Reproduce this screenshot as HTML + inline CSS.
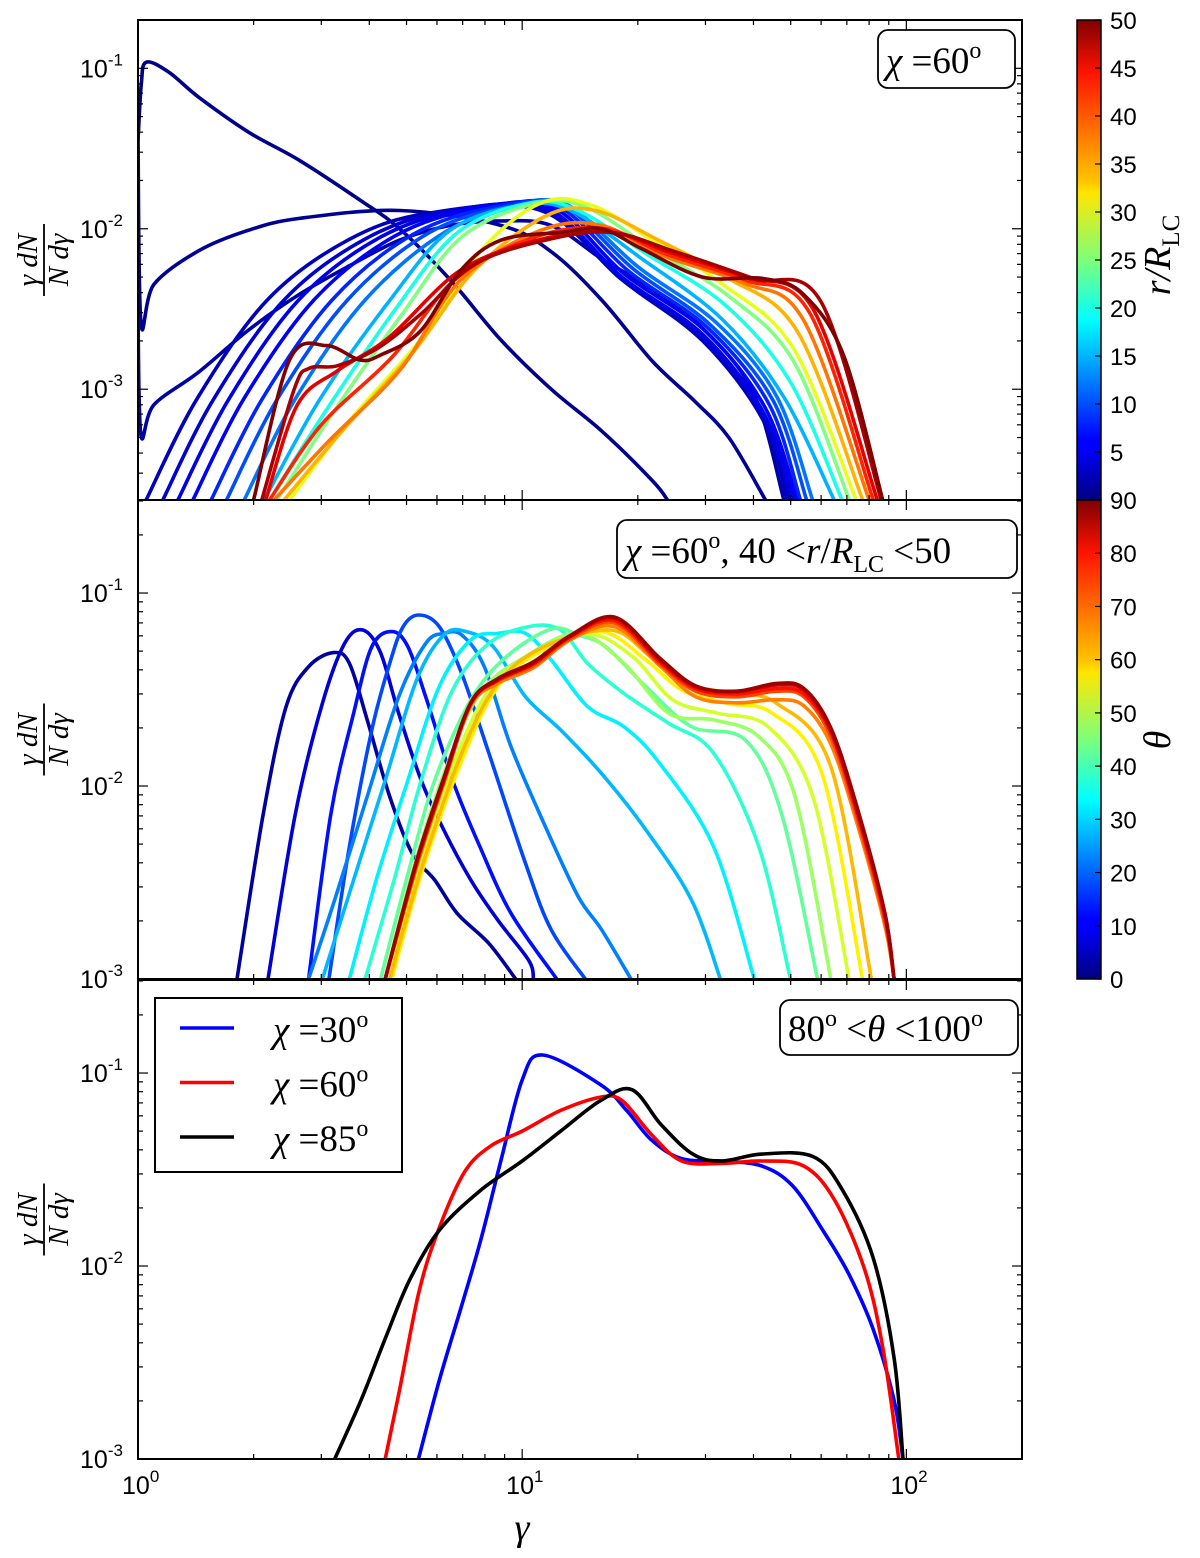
<!DOCTYPE html>
<html><head><meta charset="utf-8"><style>
html,body{margin:0;padding:0;background:#fff;}
svg{display:block;}
text{font-family:"Liberation Sans",sans-serif;fill:#000;}
.serif{font-family:"Liberation Serif",serif;}
</style></head><body>
<svg id="fig" width="1200" height="1558" viewBox="0 0 1200 1558" xmlns="http://www.w3.org/2000/svg">
<defs>
<linearGradient id="jetV" x1="0" y1="1" x2="0" y2="0">
<stop offset="0" stop-color="#000080"/><stop offset="0.11" stop-color="#0000ff"/><stop offset="0.125" stop-color="#0000ff"/>
<stop offset="0.34" stop-color="#00dcff"/><stop offset="0.375" stop-color="#00ffff"/>
<stop offset="0.5" stop-color="#7dff7a"/><stop offset="0.64" stop-color="#ffe600"/>
<stop offset="0.66" stop-color="#ffc800"/><stop offset="0.89" stop-color="#ff1300"/><stop offset="1" stop-color="#800000"/>
</linearGradient>
<clipPath id="clipTop"><rect x="138" y="20" width="884" height="480"/></clipPath>
<clipPath id="clipMid"><rect x="138" y="500" width="884" height="479"/></clipPath>
<clipPath id="clipBot"><rect x="138" y="980" width="884" height="479"/></clipPath>
</defs>
<g id="layer"></g>
</svg>
<script>
// ---------- data: top panel (chi=60, colour = r/R_LC) ----------
const topR = [0.5, 1, 2, 3, 4, 5, 6, 8, 10, 12, 15, 20, 25, 30, 35, 38, 42, 45, 48, 50];
const topGamma = [
 [1.0,1.02,1.05,1.2,1.44,1.94,2.63,3.78,4.8,6.5,8.8,11.9,16.1,21.8,23.9],
 [1.0,1.018,1.1,1.44,1.94,2.63,4.8,8.8,11.9,16.1,21.8,28,34.5,43],
 [1.0,1.018,1.1,1.44,1.94,2.63,3.56,4.8,6.5,8.8,11.9,16.1,21.8,29.5,40,48],
 [1.05,1.42,2.17,3.52,5.70,11.2,18.2,29.5,42.4,49],
 [1.16,1.57,2.40,3.89,6.30,11.2,18.2,29.5,42.4,50],
 [1.27,1.72,2.62,4.25,6.90,11.6,18.2,29.5,42.4,51],
 [1.39,1.88,2.87,4.66,7.55,12.0,18.5,30,43,52],
 [1.55,2.10,3.20,5.19,8.42,12.4,19,30.5,44,53],
 [1.70,2.30,3.51,5.70,9.23,12.8,19.5,31,45,55],
 [1.89,2.56,3.90,6.33,10.0,13.2,20,32,46,57],
 [2.13,2.97,4.53,6.5,9.95,13.4,20.5,33.3,47.9,64.9],
 [2.2,3.1,4.7,6.8,10.5,14.0,21.0,34.0,50.0,68.0],
 [2.3,3.2,4.9,7.0,11.0,14.8,21.8,34.5,50.8,71.0],
 [2.48,3.56,5.43,7.81,11.2,15.2,21.8,33.3,50.8,74.0],
 [2.4,3.4,5.2,7.5,11.5,15.5,22,34,52,77],
 [2.26,3.15,4.81,6.92,11.2,16.1,23.2,37.6,54.0,80.0],
 [2.2,3.0,4.6,6.8,11,16.5,23.5,38,56,82],
 [2.15,2.6,3.3,4.5,6.9,11,17,24,38,57,84],
 [2.1,2.55,2.79,3.3,4.2,5.5,7.5,11.5,17,25,40,60,86],
 [2.0,2.48,3.09,3.78,4.27,5.43,6.92,8.82,12.7,16.1,20.5,29.5,42.4,54.0,68.8,86.8]
];
const topValue = [
 [.0356,.08,.109,.095,.066,.040,.0267,.0151,.01,.0048,.00203,.001,.00055,.00027,2.04e-4],
 [.0383,.00258,.0045,.0073,.0098,.0116,.013,.0105,.0072,.0036,.0015,.00085,.0005,2.04e-4],
 [.0029,.000516,.0008,.00128,.00234,.0039,.0059,.0085,.0105,.0112,.0105,.0065,.0042,.0024,.00095,2.04e-4],
 [2.04e-4,8.6e-4,3.6e-3,8.5e-3,1.25e-2,1.3e-2,4.8e-3,2.0e-3,6.4e-4,2.04e-4],
 [2.04e-4,8.6e-4,3.6e-3,8.6e-3,1.28e-2,1.32e-2,4.9e-3,2.1e-3,6.8e-4,2.04e-4],
 [2.04e-4,8.6e-4,3.6e-3,8.8e-3,1.3e-2,1.34e-2,5.0e-3,2.2e-3,7.2e-4,2.04e-4],
 [2.04e-4,8.6e-4,3.6e-3,9.0e-3,1.33e-2,1.36e-2,5.2e-3,2.3e-3,7.6e-4,2.04e-4],
 [2.04e-4,8.6e-4,3.6e-3,9.2e-3,1.36e-2,1.38e-2,5.4e-3,2.4e-3,8e-4,2.04e-4],
 [2.04e-4,8.6e-4,3.6e-3,9.4e-3,1.38e-2,1.4e-2,5.6e-3,2.5e-3,8.5e-4,2.04e-4],
 [2.04e-4,8.6e-4,3.6e-3,9.6e-3,1.4e-2,1.4e-2,5.8e-3,2.6e-3,9e-4,2.04e-4],
 [2.04e-4,8.6e-4,3.6e-3,9.8e-3,1.4e-2,1.3e-2,6.5e-3,2.7e-3,9e-4,2.04e-4],
 [2.04e-4,7.5e-4,3.2e-3,9.5e-3,1.45e-2,1.3e-2,7e-3,3.3e-3,1.1e-3,2.04e-4],
 [2.04e-4,7e-4,3e-3,9e-3,1.45e-2,1.35e-2,7.5e-3,3.8e-3,1.5e-3,2.04e-4],
 [2.04e-4,6.4e-4,2.03e-3,7.3e-3,1.45e-2,1.4e-2,8.5e-3,4.5e-3,1.8e-3,2.04e-4],
 [2.04e-4,5.5e-4,1.7e-3,5.5e-3,1.2e-2,1.3e-2,8.8e-3,5e-3,2.3e-3,2.04e-4],
 [2.04e-4,4.8e-4,1.32e-3,4.8e-3,9.8e-3,1.05e-2,6.8e-3,4.6e-3,2.7e-3,2.04e-4],
 [2.04e-4,6e-4,1.6e-3,5e-3,9e-3,1e-2,7e-3,4.8e-3,3e-3,2.04e-4],
 [2.04e-4,8e-4,1.3e-3,2.1e-3,5.5e-3,8.5e-3,9.5e-3,7.2e-3,5e-3,3.2e-3,2.04e-4],
 [2.04e-4,1e-3,1.35e-3,1.4e-3,1.8e-3,3e-3,6e-3,8.5e-3,9.5e-3,7.2e-3,4.9e-3,3.5e-3,2.04e-4],
 [2.04e-4,1.52e-3,1.87e-3,1.52e-3,1.63e-3,2.3e-3,5.5e-3,8.5e-3,9.5e-3,1.0e-2,7.5e-3,5e-3,4.9e-3,3.9e-3,1.6e-3,2.04e-4]
];
// ---------- data: middle panel (40<r<50, colour = theta) ----------
const midTheta = [2.5,7.5,12.5,17.5,22.5,27.5,32.5,37.5,42.5,47.5,52.5,57.5,62.5,67.5,72.5,77.5,82.5,87.5];
const bundleGamma = [4.40,5.31,6.25,7.35,8.64,10.7,13.3,17.4,22.8,28.3,36.1,46.0,54.1,63.6,74.8,87.9,92.9];
const midGamma = [
 [1.81,2.12,2.43,2.78,3.23,3.55,3.95,4.52,5.17,5.92,6.77,8.19,9.62],
 [2.18,2.57,3.02,3.45,3.85,4.28,4.77,5.46,6.25,7.35,8.64,10.4,10.7],
 [2.78,3.18,3.64,4.06,4.58,5.04,5.61,6.59,7.76,9.35,12.3],
 [3.14,3.55,4.06,4.52,4.90,5.38,6.08,6.96,8.19,10.2,11.9,14.6],
 [2.78,3.27,3.95,4.77,5.61,6.25,6.96,7.97,9.35,11.6,14.0,16.1,19.2],
 [3.02,3.64,4.40,5.31,6.25,7.15,8.41,10.2,12.6,16.1,21.0,27.6,32.8],
 [3.55,4.17,5.04,6.08,7.35,8.64,10.2,11.9,14.8,18.4,22.8,31.5,40.2],
 [3.90,4.64,5.46,6.59,8.19,10.4,12.6,14.8,18.4,24.1,31.5,41.3,49.9],
 [4.28,5.04,5.92,7.35,9.1,11.9,14.0,16.5,21.0,27.6,38.1,47.3,58.7],
 [4.40,5.17,6.25,7.76,10.2,14.0,18.4,24.1,31.5,41.3,51.3,63.6],
 [4.52,5.31,6.59,8.19,10.7,14.8,19.4,24.7,32.4,43.6,57.1,70.9],
 [4.58,5.46,6.96,8.64,11.4,16.1,21.0,26.1,34.2,44.8,60.3,76.9],
 [4.52,5.46,6.96,8.64,11.4,17.0,21.6,26.8,35.1,46.0,63.6,81.1],
 bundleGamma, bundleGamma, bundleGamma, bundleGamma, bundleGamma
];
const midValue = [
 [.001,.00723,.0258,.0415,.0491,.0432,.022,.00882,.00448,.00326,.00219,.00153,.001],
 [.001,.00723,.0268,.0548,.0643,.049,.0238,.0107,.00592,.00326,.00202,.00125,.001],
 [.001,.00723,.0238,.0527,.0631,.0527,.029,.0107,.00485,.00219,.001],
 [.001,.00485,.0195,.0432,.067,.0769,.067,.0383,.0148,.00397,.0018,.001],
 [.001,.00267,.00882,.029,.0548,.0618,.0606,.0415,.016,.00592,.00267,.0018,.001],
 [.001,.00326,.0107,.0354,.0606,.0631,.0527,.029,.0195,.0116,.00592,.00256,.001],
 [.001,.00326,.0107,.0327,.0571,.0618,.0618,.045,.0258,.0203,.0131,.00485,.001],
 [.001,.00326,.0107,.0314,.0548,.067,.0643,.0432,.0302,.0211,.0148,.00485,.001],
 [.001,.0035,.0107,.0279,.0468,.065,.0606,.0527,.0327,.0203,.0173,.00723,.001],
 [.001,.0035,.0116,.0302,.0468,.0618,.0432,.0238,.022,.018,.00882,.001],
 [.001,.0035,.0126,.0314,.0487,.0618,.0468,.0279,.0238,.0203,.00882,.001],
 [.001,.0035,.0135,.0327,.051,.0631,.045,.0314,.0268,.0238,.0116,.001],
 [.001,.0037,.0148,.034,.0527,.0643,.0468,.034,.0302,.0268,.0126,.001],
 [.001,.0038,.0103,.026,.034,.041,.057,.067,.042,.029,.027,.028,.026,.0165,.0062,.0019,.001],
 [.001,.0039,.0105,.0265,.035,.042,.058,.070,.043,.031,.029,.031,.029,.018,.0066,.002,.001],
 [.001,.004,.0107,.027,.0355,.043,.059,.072,.044,.032,.030,.032,.030,.019,.0070,.0021,.001],
 [.001,.004,.0107,.0268,.0354,.0432,.0594,.074,.045,.0327,.0308,.0334,.0314,.0195,.00723,.00219,.001],
 [.001,.0041,.011,.027,.036,.044,.06,.075,.046,.033,.031,.034,.032,.020,.0075,.0022,.001]
];
// ---------- data: bottom panel (80<theta<100) ----------
const botLabels = ["30","60","85"];
const botColors = ["#0000ff","#ff0000","#000000"];
const botGamma = [
 [5.37,6.1,6.9,7.8,8.8,10.0,11.3,16.0,18.7,21.7,26.0,33.0,42.0,50.6,61.0,71.0,82.0,93.0,98.0],
 [4.4,4.8,5.4,6.1,7.1,8.3,10.0,12.6,16.0,18.2,21.7,26.0,33.0,42.0,54.0,65.0,78.0,87.0,95.6],
 [3.25,3.8,4.4,5.1,6.1,7.8,10.0,12.6,16.0,19.3,23.0,27.8,33.0,42.0,57.0,68.0,82.0,93.0,98.0]
];
const botValue = [
 [.001,.0026,.0059,.0136,.035,.092,.124,.087,.064,.045,.036,.035,.033,.026,.015,.009,.0047,.002,.001],
 [.001,.0023,.0075,.016,.031,.042,.05,.064,.075,.072,.048,.035,.034,.035,.033,.022,.0095,.0037,.001],
 [.001,.002,.0042,.0085,.0154,.0247,.035,.05,.072,.082,.054,.038,.035,.038,.037,.025,.011,.0033,.001]
];
const yTickExp = [-1,-2,-3];
const xTickExp = [0,1,2];
const cbTopTicks = [5,10,15,20,25,30,35,40,45,50];
const cbMidTicks = [0,10,20,30,40,50,60,70,80,90];

// ---------- axes ----------
const NS = "http://www.w3.org/2000/svg";
const X0 = 138, X1 = 1022, XMINL = 0, XMAXL = Math.log10(200);
function xs(g){ return X0 + (Math.log10(g)-XMINL)/(XMAXL-XMINL)*(X1-X0); }
const panels = {
 top: {y0:20, y1:500, lmin:Math.log10(2.04e-4), lmax:Math.log10(0.2)},
 mid: {y0:500, y1:979, lmin:-3, lmax:-0.518},
 bot: {y0:980, y1:1459, lmin:-3, lmax:-0.518}
};
function ys(p, v){ const P=panels[p]; return P.y1 - (Math.log10(v)-P.lmin)/(P.lmax-P.lmin)*(P.y1-P.y0); }
function jet(t){
 const c = x => Math.max(0, Math.min(1, x));
 const r=c(1.5-Math.abs(4*t-3)), g=c(1.5-Math.abs(4*t-2)), b=c(1.5-Math.abs(4*t-1));
 return "rgb("+Math.round(r*255)+","+Math.round(g*255)+","+Math.round(b*255)+")";
}
function el(tag, attrs, parent){
 const e=document.createElementNS(NS,tag);
 for(const k in attrs) e.setAttribute(k, attrs[k]);
 (parent||layer).appendChild(e); return e;
}
function smoothPath(pts){
 let d="M"+pts[0][0].toFixed(1)+","+pts[0][1].toFixed(1);
 for(let i=0;i<pts.length-1;i++){
  const p0=pts[Math.max(0,i-1)], p1=pts[i], p2=pts[i+1], p3=pts[Math.min(pts.length-1,i+2)];
  const c1=[p1[0]+(p2[0]-p0[0])/6, p1[1]+(p2[1]-p0[1])/6];
  const c2=[p2[0]-(p3[0]-p1[0])/6, p2[1]-(p3[1]-p1[1])/6];
  d+=" C"+c1[0].toFixed(1)+","+c1[1].toFixed(1)+" "+c2[0].toFixed(1)+","+c2[1].toFixed(1)+" "+p2[0].toFixed(1)+","+p2[1].toFixed(1);
 }
 return d;
}
const layer=document.getElementById("layer");

function drawCurves(p, gammas, values, colorFn, clip, name){
 const g=el("g",{"clip-path":"url(#"+clip+")"});
 
 
 for(let i=0;i<gammas.length;i++){
  const pts=gammas[i].map((gm,j)=>[xs(gm), ys(p, values[i][j])]);
  const path=el("path",{d:smoothPath(pts), fill:"none", stroke:colorFn(i), "stroke-width":3.6, "stroke-linejoin":"round","stroke-linecap":"round"}, g);
  
  
 }
}
drawCurves("top", topGamma, topValue, i=>jet(topR[i]/50), "clipTop", "top");
drawCurves("mid", midGamma, midValue, i=>jet(midTheta[i]/90), "clipMid", "mid");
drawCurves("bot", botGamma, botValue, i=>botColors[i], "clipBot", "bottom");

function drawAxes(p, showX, name){
 const P=panels[p];
 const g=el("g",{});
 
 
 el("rect",{x:X0,y:P.y0,width:X1-X0,height:P.y1-P.y0,fill:"none",stroke:"#000","stroke-width":2},g);
 for(let e=0;e<=2;e++){
  for(let m=1;m<=9;m++){
   const v=m*Math.pow(10,e); if(v>200) break;
   const x=xs(v), L=(m===1)?10:5;
   el("line",{x1:x,x2:x,y1:P.y1,y2:P.y1-L,stroke:"#000","stroke-width":1.2},g);
   el("line",{x1:x,x2:x,y1:P.y0,y2:P.y0+L,stroke:"#000","stroke-width":1.2},g);
  }
 }
 for(let e=-4;e<=0;e++){
  for(let m=1;m<=9;m++){
   const lv=Math.log10(m)+e; if(lv<P.lmin-1e-6||lv>P.lmax+1e-6) continue;
   const y=ys(p,Math.pow(10,lv)), L=(m===1)?10:5;
   el("line",{x1:X0,x2:X0+L,y1:y,y2:y,stroke:"#000","stroke-width":1.2},g);
   el("line",{x1:X1,x2:X1-L,y1:y,y2:y,stroke:"#000","stroke-width":1.2},g);
  }
 }
 yTickExp.forEach(e=>{
  const y=ys(p,Math.pow(10,e));
  const t=el("text",{x:X0-58,y:y+9,"font-size":25},g);
  
  
  t.textContent="10";
  const s=el("tspan",{dy:-12,"font-size":17},t); s.textContent=String(e);
 });
 if(showX){
  xTickExp.forEach(e=>{
   const x=xs(Math.pow(10,e));
   const t=el("text",{x:x-16,y:P.y1+35,"font-size":25},g);
   
   
   t.textContent="10";
   const s=el("tspan",{dy:-12,"font-size":17},t); s.textContent=String(e);
  });
 }
 const cy=(P.y0+P.y1)/2;
 const yl=el("g",{transform:"translate(44,"+cy+") rotate(-90)"},g);
 
 
 const n=el("text",{x:0,y:-7,"font-size":29,"text-anchor":"middle","class":"serif","font-style":"italic"},yl); n.textContent="γ dN";
 el("line",{x1:-36,x2:36,y1:0,y2:0,stroke:"#000","stroke-width":1.8},yl);
 const dn=el("text",{x:0,y:24,"font-size":29,"text-anchor":"middle","class":"serif","font-style":"italic"},yl); dn.textContent="N dγ";
}
drawAxes("top", false, "top");
drawAxes("mid", false, "mid");
drawAxes("bot", true, "bottom");

function colorbar(y0,y1,vmax,ticks,label,labelY,name){
 const g=el("g",{});
 
 
 el("rect",{x:1077,y:y0,width:24,height:y1-y0,fill:"url(#jetV)",stroke:"#000","stroke-width":1.5},g);
 ticks.forEach(v=>{
  const y=y1-(v/vmax)*(y1-y0);
  el("line",{x1:1101,x2:1095,y1:y,y2:y,stroke:"#000","stroke-width":1.2},g);
  const t=el("text",{x:1110,y:y+9,"font-size":24},g); t.textContent=String(v);
 });
 const lt=el("text",{transform:"translate(1170,"+labelY+") rotate(-90)","font-size":38,"text-anchor":"middle","class":"serif","font-style":"italic"},g);
 
 
 lt.innerHTML=label;
}
colorbar(20,500,50,cbTopTicks,'r/R<tspan font-size="25" dy="9" font-style="normal">LC</tspan>',255,"colorbar-radius");
colorbar(500,979,90,cbMidTicks,'θ',740,"colorbar-theta");

function box(x,y,w,h,html,tx,ty,name){
 const g=el("g",{});
 
 
 el("rect",{x:x,y:y,width:w,height:h,rx:10,fill:"#fff",stroke:"#000","stroke-width":1.8},g);
 const t=el("text",{x:tx,y:ty,"font-size":37,"class":"serif"},g); t.innerHTML=html;
}
box(878,30,137,58,'<tspan font-style="italic">χ</tspan> =60<tspan dy="-15" font-size="24">o</tspan>',886,73,"top-annotation");
box(617,520,400,58,'<tspan font-style="italic">χ</tspan> =60<tspan dy="-15" font-size="24">o</tspan><tspan dy="15">, 40 &lt;</tspan><tspan font-style="italic">r</tspan>/<tspan font-style="italic">R</tspan><tspan dy="9" font-size="24">LC</tspan><tspan dy="-9"> &lt;50</tspan>',625,563,"mid-annotation");
box(780,1000,238,55,'80<tspan dy="-15" font-size="24">o</tspan><tspan dy="15"> &lt;</tspan><tspan font-style="italic">θ</tspan> &lt;100<tspan dy="-15" font-size="24">o</tspan>',788,1041,"bottom-annotation");

const lg=el("g",{});


el("rect",{x:155,y:998,width:247,height:174,fill:"#fff",stroke:"#000","stroke-width":2},lg);
botLabels.forEach((lab,i)=>{
 const y=1028+i*54.5;
 const ln=el("line",{x1:180,x2:234,y1:y,y2:y,stroke:botColors[i],"stroke-width":3.5},lg);
 
 
 const t=el("text",{x:273,y:y+14,"font-size":37,"class":"serif"},lg);
 
 
 t.innerHTML='<tspan font-style="italic">χ</tspan> ='+lab+'<tspan dy="-15" font-size="24">o</tspan>';
});

const xl=el("text",{x:522,y:1540,"font-size":38,"class":"serif","font-style":"italic","text-anchor":"middle"});


xl.textContent="γ";
</script>
</body></html>
